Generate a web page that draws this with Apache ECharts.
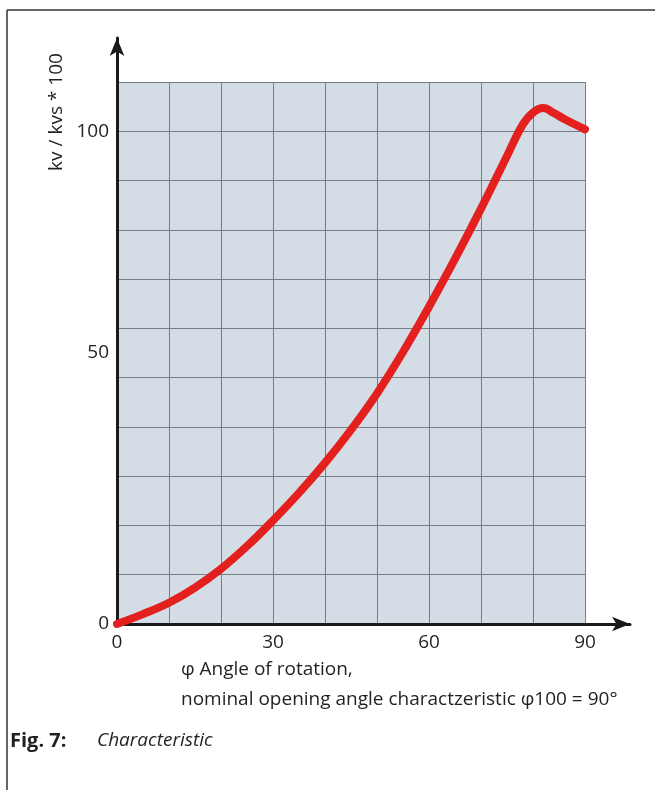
<!DOCTYPE html>
<html>
<head>
<meta charset="utf-8">
<script src="https://cdn.jsdelivr.net/npm/echarts@6/dist/echarts.min.js"></script>
<style>
  html, body { margin: 0; padding: 0; background: #fff; }
  #chart { width: 655px; height: 790px; }
</style>
</head>
<body>
<div id="chart"></div>
<script>
// angle of rotation (deg) and kv/kvs*100
const angles = [0, 5, 10, 15, 20, 25, 30, 35, 40, 45, 50, 55, 60, 65, 70, 75, 78, 80, 82, 84, 86, 90]
const kvValues = [0, 2.0, 4.3, 7.4, 11.2, 15.8, 21.0, 26.6, 32.7, 39.4, 46.8, 55.2, 64.4, 74.1, 84.3, 95.0, 101.3, 103.8, 104.7, 103.7, 102.5, 100.4]

const xTickLabels = [0, 30, 60, 90]
const yTickLabels = [0, 100]
const yMidLabel = [50]

const textColor = '#231f20'
const gridColor = '#747e88'
const font = '"Open Sans"'

const chart = echarts.init(document.getElementById('chart'))

chart.setOption({
  animation: false,
  grid: [
    { left: 117, top: 82, width: 468, height: 542, show: true, backgroundColor: '#d4dde5', borderWidth: 0 },
    { left: 117, top: 38, right: 25, bottom: 166 }
  ],
  xAxis: [
    {
      type: 'value', gridIndex: 0, min: 0, max: 90, interval: 10,
      axisLine: { show: false }, axisTick: { show: false },
      axisLabel: {
        color: textColor, fontSize: 19, fontFamily: font, margin: 9,
        formatter: v => xTickLabels.includes(v) ? String(v) : ''
      },
      splitLine: { show: true, lineStyle: { color: gridColor, width: 1 } }
    },
    {
      type: 'value', gridIndex: 1, min: 0, max: 1,
      axisLine: { show: true, symbol: ['none', 'arrow'], symbolSize: [11, 18], lineStyle: { color: '#1a1a1a', width: 3 } },
      axisTick: { show: false }, axisLabel: { show: false }, splitLine: { show: false }
    }
  ],
  yAxis: [
    {
      type: 'value', gridIndex: 0, min: 0, max: 110, interval: 10,
      axisLine: { show: false }, axisTick: { show: false },
      axisLabel: {
        color: textColor, fontSize: 19, fontFamily: font, margin: 8,
        formatter: v => yTickLabels.includes(v) ? String(v) : ''
      },
      splitLine: { show: true, lineStyle: { color: gridColor, width: 1 } }
    },
    {
      type: 'value', gridIndex: 1, min: 0, max: 1,
      axisLine: { show: true, symbol: ['none', 'arrow'], symbolSize: [11, 18], lineStyle: { color: '#1a1a1a', width: 3 } },
      axisTick: { show: false }, axisLabel: { show: false }, splitLine: { show: false }
    },
    {
      // the "50" label sits off its gridline in the original figure
      type: 'value', gridIndex: 0, min: 0, max: 100, interval: 50, position: 'left', offset: 0,
      axisLine: { show: false }, axisTick: { show: false }, splitLine: { show: false },
      axisLabel: {
        color: textColor, fontSize: 19, fontFamily: font, margin: 8,
        formatter: v => yMidLabel.includes(v) ? String(v) : ''
      }
    }
  ],
  series: [
    {
      type: 'line',
      xAxisIndex: 0, yAxisIndex: 0,
      data: angles.map((a, i) => [a, kvValues[i]]),
      smooth: 0.4,
      showSymbol: false,
      lineStyle: { color: '#e3201e', width: 8, cap: 'round' }
    }
  ],
  graphic: [
    { type: 'line', shape: { x1: 7, y1: 10, x2: 655, y2: 10 }, style: { stroke: '#333', lineWidth: 1.5 } },
    { type: 'line', shape: { x1: 7, y1: 10, x2: 7, y2: 790 }, style: { stroke: '#333', lineWidth: 1.5 } },
    {
      type: 'text', x: 57, y: 112, rotation: Math.PI / 2,
      style: { text: 'kv / kvs * 100', fill: textColor, font: '19px ' + font, align: 'center', verticalAlign: 'middle' }
    },
    {
      type: 'text', x: 181, y: 670,
      style: { text: 'φ Angle of rotation,', fill: textColor, font: '19px ' + font, align: 'left', verticalAlign: 'middle' }
    },
    {
      type: 'text', x: 181, y: 700,
      style: { text: 'nominal opening angle charactzeristic φ100 = 90°', fill: textColor, font: '19px ' + font, align: 'left', verticalAlign: 'middle' }
    },
    {
      type: 'text', x: 10, y: 741,
      style: { text: 'Fig. 7:', fill: textColor, font: 'bold 20px ' + font, align: 'left', verticalAlign: 'middle' }
    },
    {
      type: 'text', x: 97, y: 741,
      style: { text: 'Characteristic', fill: textColor, font: 'italic 19px ' + font, align: 'left', verticalAlign: 'middle' }
    }
  ]
})
</script>
</body>
</html>
